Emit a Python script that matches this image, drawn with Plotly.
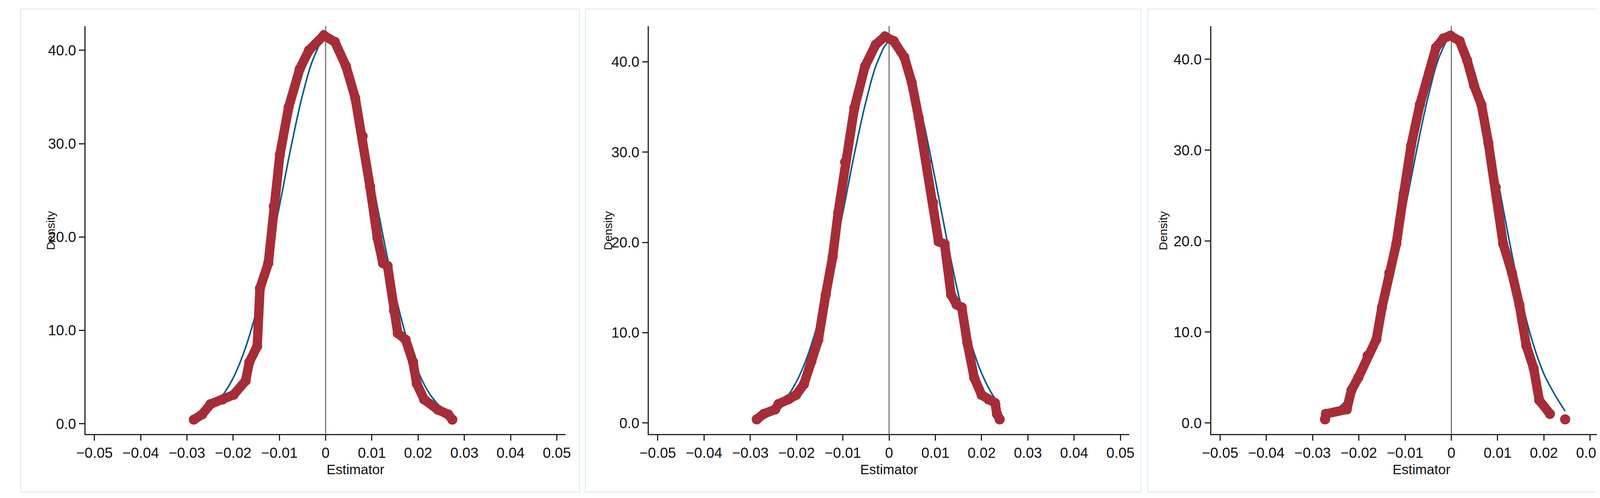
import plotly.graph_objects as go

# Panel 1 kernel density (red) and normal curve (blue)
p1_x = [-0.0285,-0.0267,-0.0249,-0.0223,-0.0199,-0.0173,-0.0165,-0.0148,-0.0142,-0.0124,-0.0112,-0.0099,-0.0080,-0.0056,-0.0036,-0.0004,0.0020,0.0044,0.0064,0.0080,0.0096,0.0112,0.0124,0.0134,0.0148,0.0156,0.0173,0.0189,0.0197,0.0213,0.0243,0.0265,0.0274]
p1_y = [0.44,1.0,2.1,2.6,3.1,4.6,6.6,8.3,14.5,17.2,23.3,28.8,33.9,38.0,40.0,41.6,40.9,38.3,34.9,30.8,25.4,19.9,17.2,16.9,12.1,9.7,9.0,6.6,4.3,2.6,1.5,1.0,0.44]
n1_x = [-0.025,-0.0225,-0.020,-0.0175,-0.015,-0.0125,-0.010,-0.0075,-0.005,-0.0025,0.0,0.0025,0.005,0.0075,0.010,0.0125,0.015,0.0175,0.020,0.0225,0.025,0.027]
n1_y = [1.6,2.9,4.9,7.9,12.0,17.3,23.3,29.6,35.2,39.3,41.4,40.8,37.7,32.5,26.3,19.9,14.0,9.2,5.6,3.2,1.7,0.9]

# Panel 2
p2_x = [-0.0286,-0.0271,-0.0246,-0.0239,-0.0218,-0.0201,-0.0184,-0.0168,-0.0153,-0.0137,-0.0122,-0.0110,-0.0095,-0.0075,-0.0052,-0.0029,-0.0009,0.0010,0.0033,0.0049,0.0064,0.0080,0.0095,0.0107,0.0120,0.0134,0.0146,0.0157,0.0169,0.0184,0.0200,0.0215,0.0229,0.0233,0.0239]
p2_y = [0.4,1.0,1.5,2.1,2.6,3.1,4.3,6.8,9.2,14.2,18.4,23.3,28.9,34.9,39.5,41.9,42.8,42.3,40.5,37.7,33.8,28.9,24.4,20.1,19.8,14.2,13.1,12.8,8.9,5.0,3.1,2.6,2.2,1.0,0.4]
n2_x = [-0.028,-0.025,-0.0225,-0.020,-0.0175,-0.015,-0.0125,-0.010,-0.0075,-0.005,-0.0025,0.0,0.0025,0.005,0.0075,0.010,0.0125,0.015,0.0175,0.020,0.0225,0.024]
n2_y = [0.6,1.4,2.6,4.6,7.6,11.8,17.2,23.3,29.8,35.6,40.0,42.2,41.6,38.5,33.2,26.9,20.3,14.2,9.2,5.5,3.0,2.0]

# Panel 3
p3_x = [-0.0273,-0.0271,-0.0226,-0.0216,-0.0201,-0.0181,-0.0162,-0.0150,-0.0134,-0.0119,-0.0103,-0.0087,-0.0068,-0.0048,-0.0033,-0.0017,-0.0002,0.0018,0.0034,0.0049,0.0065,0.0080,0.0096,0.0112,0.0131,0.0147,0.0162,0.0178,0.0190,0.0213]
p3_y = [0.4,1.0,1.5,3.6,5.0,7.4,9.2,12.7,16.5,19.7,25.2,30.5,35.0,38.5,41.3,42.3,42.6,42.0,39.9,37.1,35.0,30.8,25.9,19.7,16.5,13.0,8.5,6.0,2.5,1.0]
p3_ex = [0.0246]
p3_ey = [0.4]
n3_x = [-0.0265,-0.025,-0.0225,-0.020,-0.0175,-0.015,-0.0125,-0.010,-0.0075,-0.005,-0.0025,0.0,0.0025,0.005,0.0075,0.010,0.0125,0.015,0.0175,0.020,0.0225,0.0246]
n3_y = [0.9,1.4,2.6,4.6,7.6,11.8,17.3,23.5,30.0,35.9,40.4,42.5,41.8,38.6,33.2,26.8,20.1,13.9,9.0,5.4,3.0,1.3]

x_ticks = [-0.05,-0.04,-0.03,-0.02,-0.01,0,0.01,0.02,0.03,0.04,0.05]
x_tick_labels = ["\u22120.05","\u22120.04","\u22120.03","\u22120.02","\u22120.01","0","0.01","0.02","0.03","0.04","0.05"]
y_ticks = [0,10,20,30,40]
y_tick_labels = ["0.0","10.0","20.0","30.0","40.0"]

RED = "#a52d38"
BLUE = "#0b5a8a"
FONT = "Liberation Sans Narrow, Arial Narrow, Liberation Sans, Arial"

panels = [
    (p1_x, p1_y, n1_x, n1_y, [0.0431, 0.3258], [-1.09, 42.6]),
    (p2_x, p2_y, n2_x, n2_y, [0.3749, 0.6578], [-1.21, 43.96]),
    (p3_x, p3_y, n3_x, n3_y, [0.7061, 0.9890], [-1.2, 43.65]),
]
boxes = [(21, 1464), (1479, 2913), (2931, 4371)]

fig = go.Figure()
layout = dict(width=4383, height=1276, margin=dict(l=0, r=0, t=0, b=0),
              paper_bgcolor="white", plot_bgcolor="white", showlegend=False,
              shapes=[], annotations=[])
W, H = 4383, 1276
for i, (rx, ry, nx, ny, dom, yr) in enumerate(panels, start=1):
    xa = "x" if i == 1 else f"x{i}"
    ya = "y" if i == 1 else f"y{i}"
    fig.add_trace(go.Scatter(x=nx, y=ny, mode="lines", line=dict(color=BLUE, width=4, shape="spline"),
                             xaxis=xa, yaxis=ya, hoverinfo="skip"))
    fig.add_trace(go.Scatter(x=rx, y=ry, mode="lines+markers", line=dict(color=RED, width=24),
                             marker=dict(color=RED, size=26), xaxis=xa, yaxis=ya))
    if i == 3:
        fig.add_trace(go.Scatter(x=p3_ex, y=p3_ey, mode="markers", marker=dict(color=RED, size=26),
                                 xaxis=xa, yaxis=ya))
    axcommon = dict(showgrid=False, zeroline=False, showline=True, linecolor="#222", linewidth=3,
                    ticks="outside", ticklen=14, tickwidth=3, tickcolor="#222",
                    tickfont=dict(family=FONT, size=37, color="#111"))
    layout["xaxis" if i == 1 else f"xaxis{i}"] = dict(axcommon, domain=dom, range=[-0.0519, 0.0519],
        tickvals=x_ticks, ticktext=x_tick_labels, anchor=ya)
    layout["yaxis" if i == 1 else f"yaxis{i}"] = dict(axcommon, domain=[0.135, 0.954], range=yr,
        tickvals=y_ticks, ticktext=y_tick_labels, anchor=xa)
    layout["shapes"].append(dict(type="line", xref=xa, yref=f"{ya} domain", x0=0, x1=0, y0=0, y1=1,
                                 line=dict(color="#777", width=3), layer="below"))
    b0, b1 = boxes[i - 1]
    layout["shapes"].append(dict(type="rect", xref="paper", yref="paper", x0=b0 / W, x1=b1 / W,
                                 y0=1 - 1253 / H, y1=1 - 15 / H, line=dict(color="#e3efef", width=3)))
    cx = (dom[0] + dom[1]) / 2
    layout["annotations"].append(dict(text="Estimator", xref="paper", yref="paper", x=cx, y=1 - 1194 / H,
                                      yanchor="middle", showarrow=False,
                                      font=dict(family=FONT, size=35, color="#111")))
    layout["annotations"].append(dict(text="Density", xref="paper", yref="paper",
                                      x=(b0 + 58) / W, y=1 - 583 / H, textangle=-90,
                                      showarrow=False, font=dict(family="Liberation Sans, Arial", size=30, color="#111")))

fig.update_layout(**layout)
fig.write_html("out.html")
